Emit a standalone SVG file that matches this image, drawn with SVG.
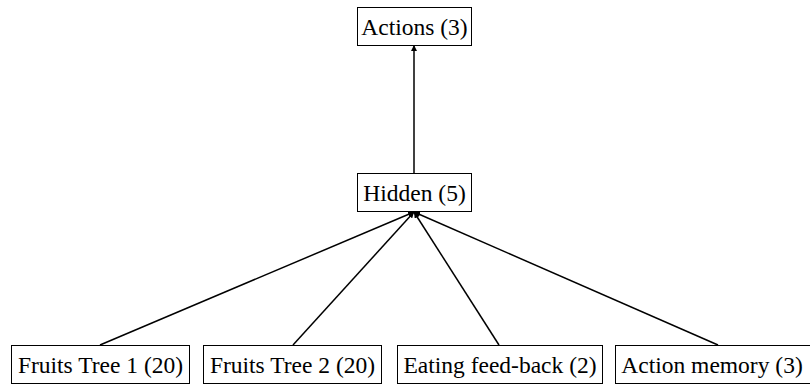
<svg xmlns="http://www.w3.org/2000/svg" width="810" height="385" viewBox="0 0 810 385">
<defs>
<style>
.box{fill:#fff;stroke:#000;stroke-width:1}
.lbl{font-family:"Liberation Serif","Times New Roman",serif;font-size:23.5px;fill:#000;text-anchor:middle}
.edge{stroke:#000;stroke-width:1.5;fill:none;marker-end:url(#ah)}
</style>
<marker id="ah" viewBox="0 0 10 10" refX="10" refY="5" markerWidth="6" markerHeight="6" markerUnits="userSpaceOnUse" orient="auto">
<path d="M0,0 L10,5 L0,10 z" fill="#000"/>
</marker>
</defs>
<rect width="810" height="385" fill="#fff"/>
<g id="connectors">
<line class="edge" x1="414" y1="173" x2="414" y2="45"/>
<line class="edge" x1="100" y1="345" x2="414" y2="212"/>
<line class="edge" x1="293" y1="345" x2="414" y2="212"/>
<line class="edge" x1="499" y1="345" x2="414" y2="212"/>
<line class="edge" x1="718" y1="345" x2="414" y2="212"/>
</g>
<g id="actions">
<rect class="box" x="357.5" y="7.5" width="114" height="38"/>
<text class="lbl" x="414.5" y="35">Actions (3)</text>
</g>
<g id="hidden">
<rect class="box" x="357.5" y="173.5" width="114" height="38"/>
<text class="lbl" x="414.5" y="201">Hidden (5)</text>
</g>
<g id="fruits1">
<rect class="box" x="11.5" y="345.5" width="178" height="38"/>
<text class="lbl" x="100.5" y="373">Fruits Tree 1 (20)</text>
</g>
<g id="fruits2">
<rect class="box" x="203.5" y="345.5" width="178" height="38"/>
<text class="lbl" x="292.5" y="373">Fruits Tree 2 (20)</text>
</g>
<g id="eating">
<rect class="box" x="397.5" y="345.5" width="205" height="38"/>
<text class="lbl" x="500" y="373">Eating feed-back (2)</text>
</g>
<g id="memory">
<rect class="box" x="615.5" y="345.5" width="200" height="38"/>
<text class="lbl" x="712" y="373">Action memory (3)</text>
</g>
</svg>
